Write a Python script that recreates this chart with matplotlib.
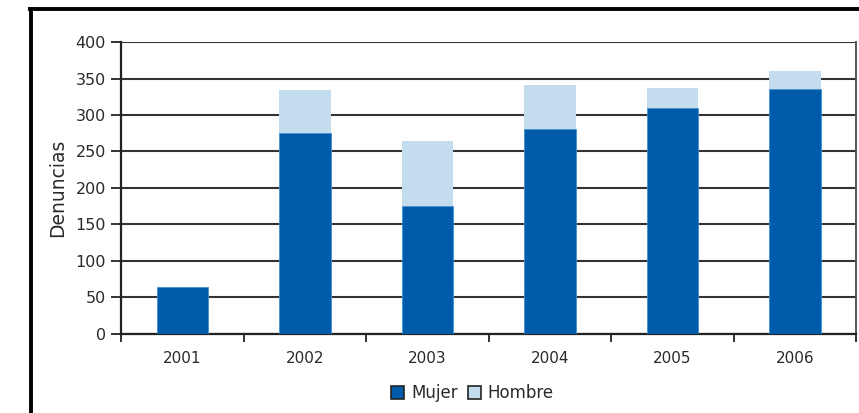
import matplotlib.pyplot as plt
from matplotlib.lines import Line2D
from matplotlib.patches import Patch
import numpy as np

years = ['2001', '2002', '2003', '2004', '2005', '2006']
mujer = [64, 276, 175, 281, 309, 335]
hombre = [0, 58, 89, 60, 28, 25]

MUJER_COLOR = '#005BAA'
HOMBRE_COLOR = '#C3DDEF'
GRID_COLOR = '#333333'

fig = plt.figure(figsize=(8.59, 4.13), dpi=100)
ax = fig.add_axes([0.1409, 0.1913, 0.8557, 0.707])

x = np.arange(len(years))
ax.bar(x, mujer, width=0.42, color=MUJER_COLOR, edgecolor='#3F8FD0', linewidth=0.6, zorder=3)
ax.bar(x, hombre, width=0.42, bottom=mujer, color=HOMBRE_COLOR, linewidth=0, zorder=3)

ax.set_xlim(-0.5, len(years) - 0.5)
ax.set_ylim(0, 400)
ax.set_yticks(range(0, 401, 50))
ax.yaxis.grid(True, color=GRID_COLOR, linewidth=1.5, zorder=1)
ax.set_axisbelow(True)

# category labels centred, ticks at boundaries
ax.set_xticks(x)
ax.set_xticklabels(years)
ax.set_xticks(np.arange(-0.5, len(years) + 0.5, 1), minor=True)
ax.tick_params(axis='x', which='major', length=0, pad=12, labelsize=11, colors='#2a2a2a')
ax.tick_params(axis='x', which='minor', length=6, width=1.4, color=GRID_COLOR, direction='out')
ax.tick_params(axis='y', length=7, width=1.4, color=GRID_COLOR, pad=4, labelsize=11.5, labelcolor='#2a2a2a')

for side in ['left', 'bottom']:
    ax.spines[side].set_linewidth(1.6)
    ax.spines[side].set_color('#222222')
ax.spines['right'].set_linewidth(1.4)
ax.spines['right'].set_color('#555555')
ax.spines['top'].set_visible(False)

ax.set_ylabel('Denuncias', fontsize=13.5, color='#2a2a2a', labelpad=6)

handles = [Patch(facecolor=MUJER_COLOR, edgecolor='#222222', linewidth=1.2, label='Mujer'),
           Patch(facecolor=HOMBRE_COLOR, edgecolor='#222222', linewidth=1.2, label='Hombre')]
fig.legend(handles=handles, loc='center', bbox_to_anchor=(0.55, 0.048), ncol=2, frameon=False,
           fontsize=12, handlelength=0.8, handleheight=0.8, handletextpad=0.4, columnspacing=0.6,
           labelcolor='#2a2a2a')

# outer frame (left and top edges visible)
fig.add_artist(Line2D([0.036, 0.036], [0.0, 0.978], color='black', linewidth=2.8, transform=fig.transFigure))
fig.add_artist(Line2D([0.035, 1.0], [0.978, 0.978], color='black', linewidth=2.8, transform=fig.transFigure))

fig.savefig('out.png', dpi=100)
